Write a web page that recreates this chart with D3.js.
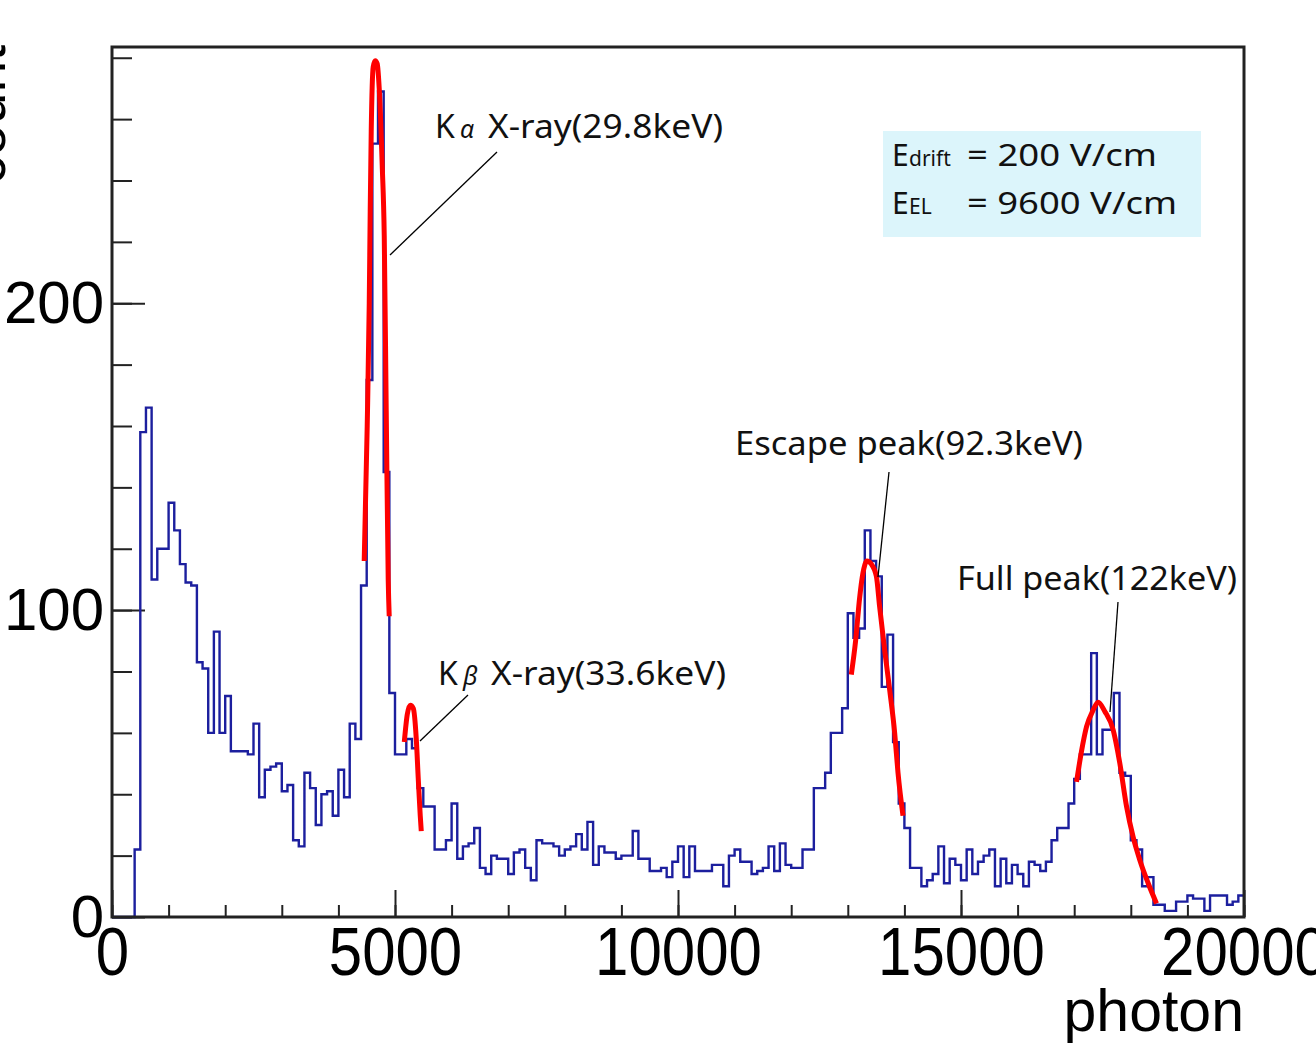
<!DOCTYPE html>
<html>
<head>
<meta charset="utf-8">
<script src="https://cdn.jsdelivr.net/npm/d3@7"></script>
<style>
  body { margin: 0; background: #fff; }
</style>
</head>
<body>
<div id="canvas"></div>
<script>
// histogram: 200 bins of 100 photons, 0..20000
const binWidth = 100;
const counts = [
  0, 0, 0, 0, 22, 158, 166, 110, 120, 120,
  135, 126, 115, 109, 108, 83, 81, 60, 93, 60,
  72, 54, 54, 54, 53, 63, 39, 48, 49, 50,
  41, 43, 25, 23, 47, 42, 30, 40, 41, 33,
  48, 39, 63, 58, 108, 175, 252, 269, 145, 73,
  53, 53, 58, 55, 42, 36, 36, 22, 22, 25,
  37, 19, 23, 24, 29, 16, 14, 20, 19, 19,
  14, 21, 22, 16, 12, 25, 24, 24, 23, 20,
  22, 23, 27, 22, 31, 17, 23, 21, 21, 19,
  20, 20, 28, 19, 19, 15, 15, 16, 13, 18,
  23, 13, 23, 15, 15, 15, 17, 17, 10, 20,
  22, 18, 18, 14, 15, 16, 23, 15, 24, 17,
  16, 16, 22, 22, 42, 42, 47, 60, 60, 68,
  99, 91, 94, 126, 116, 111, 75, 92, 57, 37,
  29, 16, 16, 10, 12, 14, 23, 11, 19, 17,
  12, 22, 14, 18, 20, 22, 10, 19, 11, 17,
  14, 10, 18, 17, 15, 18, 25, 29, 29, 37,
  45, 53, 53, 86, 53, 61, 61, 73, 47, 46,
  25, 22, 10, 13, 4, 4, 2, 2, 5, 5,
  7, 6, 6, 2, 7, 7, 7, 4, 5, 7
];

// fitted curves (photon, count)
const kaFitX = [4456, 4509, 4545, 4562, 4580, 4615, 4651, 4686, 4721, 4774, 4810, 4845, 4880, 4898];
const kaFitY = [116, 160, 200, 230, 256, 277, 279, 278, 270, 245, 222, 165, 110, 98];
const kbFitX = [5164, 5217, 5270, 5323, 5376, 5411, 5446, 5464];
const kbFitY = [57, 66, 69, 68, 58, 45, 33, 28];
const escFitX = [13062, 13138, 13209, 13267, 13338, 13416, 13505, 13563, 13651, 13740, 13828, 13887, 13975];
const escFitY = [79, 90, 104, 112, 116, 115, 111, 101, 87, 74, 60, 47, 33];
const fullFitX = [17041, 17129, 17218, 17324, 17423, 17541, 17688, 17807, 17925, 18042, 18160, 18307, 18455];
const fullFitY = [44, 54, 62, 67, 70, 67, 61, 50, 36, 26, 18.5, 11, 4.4];

const xMajorTicks = [0, 5000, 10000, 15000, 20000];
const xMinorTicks = d3.range(0, 20001, 1000);
const yMajorTicks = [0, 100, 200];
const yMinorTicks = d3.range(0, 281, 20);

const peakLabels = ["X-ray(29.8keV)", "X-ray(33.6keV)", "Escape peak(92.3keV)", "Full peak(122keV)"];
const fieldLabels = ["drift", "EL"];
const fieldValues = ["= 200 V/cm", "= 9600 V/cm"];

const width = 1316, height = 1051;
const frame = { left: 112, right: 1244, top: 47, bottom: 917 };

const svg = d3.select("#canvas").append("svg")
  .attr("width", width)
  .attr("height", height)
  .style("display", "block");

const x = d3.scaleLinear().domain([0, 20000]).range([frame.left, frame.right]);
const y = d3.scaleLinear().domain([0, 283.5]).range([frame.bottom, frame.top]);

const tickFont = "'Liberation Sans', Arial, Helvetica, sans-serif";
const noteFont = "'Noto Sans', 'Open Sans', sans-serif";

// minor ticks
svg.append("g")
  .attr("transform", `translate(${frame.left},0)`)
  .call(d3.axisLeft(y).tickValues(yMinorTicks).tickSize(-20).tickFormat(""))
  .call(g => g.select(".domain").remove());
svg.append("g")
  .attr("transform", `translate(0,${frame.bottom})`)
  .call(d3.axisBottom(x).tickValues(xMinorTicks).tickSize(-12).tickFormat(""))
  .call(g => g.select(".domain").remove());

// major ticks + labels
const yAxis = svg.append("g")
  .attr("transform", `translate(${frame.left},0)`)
  .call(d3.axisLeft(y).tickValues(yMajorTicks).tickSize(-33).tickPadding(8).tickFormat(d3.format("d")))
  .call(g => g.select(".domain").remove());
yAxis.selectAll("text")
  .style("font-family", tickFont)
  .style("font-size", "60px")
  .attr("fill", "#000");

const xAxis = svg.append("g")
  .attr("transform", `translate(0,${frame.bottom})`)
  .call(d3.axisBottom(x).tickValues(xMajorTicks).tickSize(-27).tickFormat(d3.format("d")))
  .call(g => g.select(".domain").remove());
xAxis.selectAll("text")
  .attr("y", 0)
  .attr("dy", 0)
  .attr("transform", "translate(0,58) scale(1,1.15)")
  .style("font-family", tickFont)
  .style("font-size", "60px")
  .attr("fill", "#000");

svg.selectAll(".tick line").attr("stroke", "#222").attr("stroke-width", 2);

// histogram outline
const steps = [[0, 0]];
counts.forEach((c, i) => {
  steps.push([i * binWidth, c]);
  steps.push([(i + 1) * binWidth, c]);
});
const stepLine = d3.line().x(d => x(d[0])).y(d => y(d[1]));
svg.append("path")
  .datum(steps)
  .attr("d", stepLine)
  .attr("fill", "none")
  .attr("stroke", "#1c1f9e")
  .attr("stroke-width", 2.4);

// fits
const fitLine = d3.line().x(d => x(d[0])).y(d => y(d[1])).curve(d3.curveMonotoneX);
[[kaFitX, kaFitY], [kbFitX, kbFitY], [escFitX, escFitY], [fullFitX, fullFitY]].forEach(([fx, fy]) => {
  svg.append("path")
    .datum(fx.map((v, i) => [v, fy[i]]))
    .attr("d", fitLine)
    .attr("fill", "none")
    .attr("stroke", "#ff0000")
    .attr("stroke-width", 5)
    .attr("stroke-linejoin", "round");
});

// frame
svg.append("rect")
  .attr("x", frame.left)
  .attr("y", frame.top)
  .attr("width", frame.right - frame.left)
  .attr("height", frame.bottom - frame.top)
  .attr("fill", "none")
  .attr("stroke", "#222")
  .attr("stroke-width", 3);

// axis titles ("count" is cut by the left edge, as in the original)
svg.append("text")
  .attr("transform", `translate(5,45) rotate(-90)`)
  .attr("text-anchor", "end")
  .style("font-family", tickFont)
  .style("font-size", "57px")
  .text("count");

svg.append("text")
  .attr("x", frame.right)
  .attr("y", 1031)
  .attr("text-anchor", "end")
  .style("font-family", tickFont)
  .style("font-size", "59px")
  .text("photon");

// annotations
const notes = svg.append("g").style("font-family", noteFont).style("font-size", "32px").attr("fill", "#111");

function leader(x1, y1, x2, y2) {
  svg.append("line")
    .attr("x1", x1).attr("y1", y1).attr("x2", x2).attr("y2", y2)
    .attr("stroke", "#000").attr("stroke-width", 1.3);
}

function noteText(tx, ty, str, len) {
  return notes.append("text")
    .attr("x", tx).attr("y", ty)
    .attr("textLength", len)
    .attr("lengthAdjust", "spacingAndGlyphs")
    .text(str);
}

function kLabel(tx, ty, greek, rest) {
  notes.append("text").attr("x", tx).attr("y", ty).text("K");
  notes.append("text").attr("x", tx + 25).attr("y", ty)
    .style("font-size", "25px").style("font-style", "italic").text(greek);
  noteText(tx + 53, ty, rest, 235);
}

kLabel(435, 138, "α", peakLabels[0]);
leader(390, 255, 497, 152);

kLabel(438, 685, "β", peakLabels[1]);
leader(420, 741, 468, 695);

noteText(735, 455, peakLabels[2], 348);
leader(889, 472, 878, 577);

noteText(957, 590, peakLabels[3], 280);
leader(1118, 602, 1110, 712);

// field box
const box = svg.append("g").style("font-family", noteFont).attr("fill", "#111");
box.append("rect")
  .attr("x", 883).attr("y", 131)
  .attr("width", 318).attr("height", 106)
  .attr("fill", "#dcf5fb");

[166, 214].forEach((ty, i) => {
  box.append("text").attr("x", 892).attr("y", ty).style("font-size", "30px").text("E");
  box.append("text").attr("x", 909).attr("y", ty).style("font-size", "21px").text(fieldLabels[i]);
  box.append("text").attr("x", 967).attr("y", ty).style("font-size", "30px")
    .attr("textLength", i === 0 ? 190 : 210)
    .attr("lengthAdjust", "spacingAndGlyphs")
    .text(fieldValues[i]);
});
</script>
</body>
</html>
